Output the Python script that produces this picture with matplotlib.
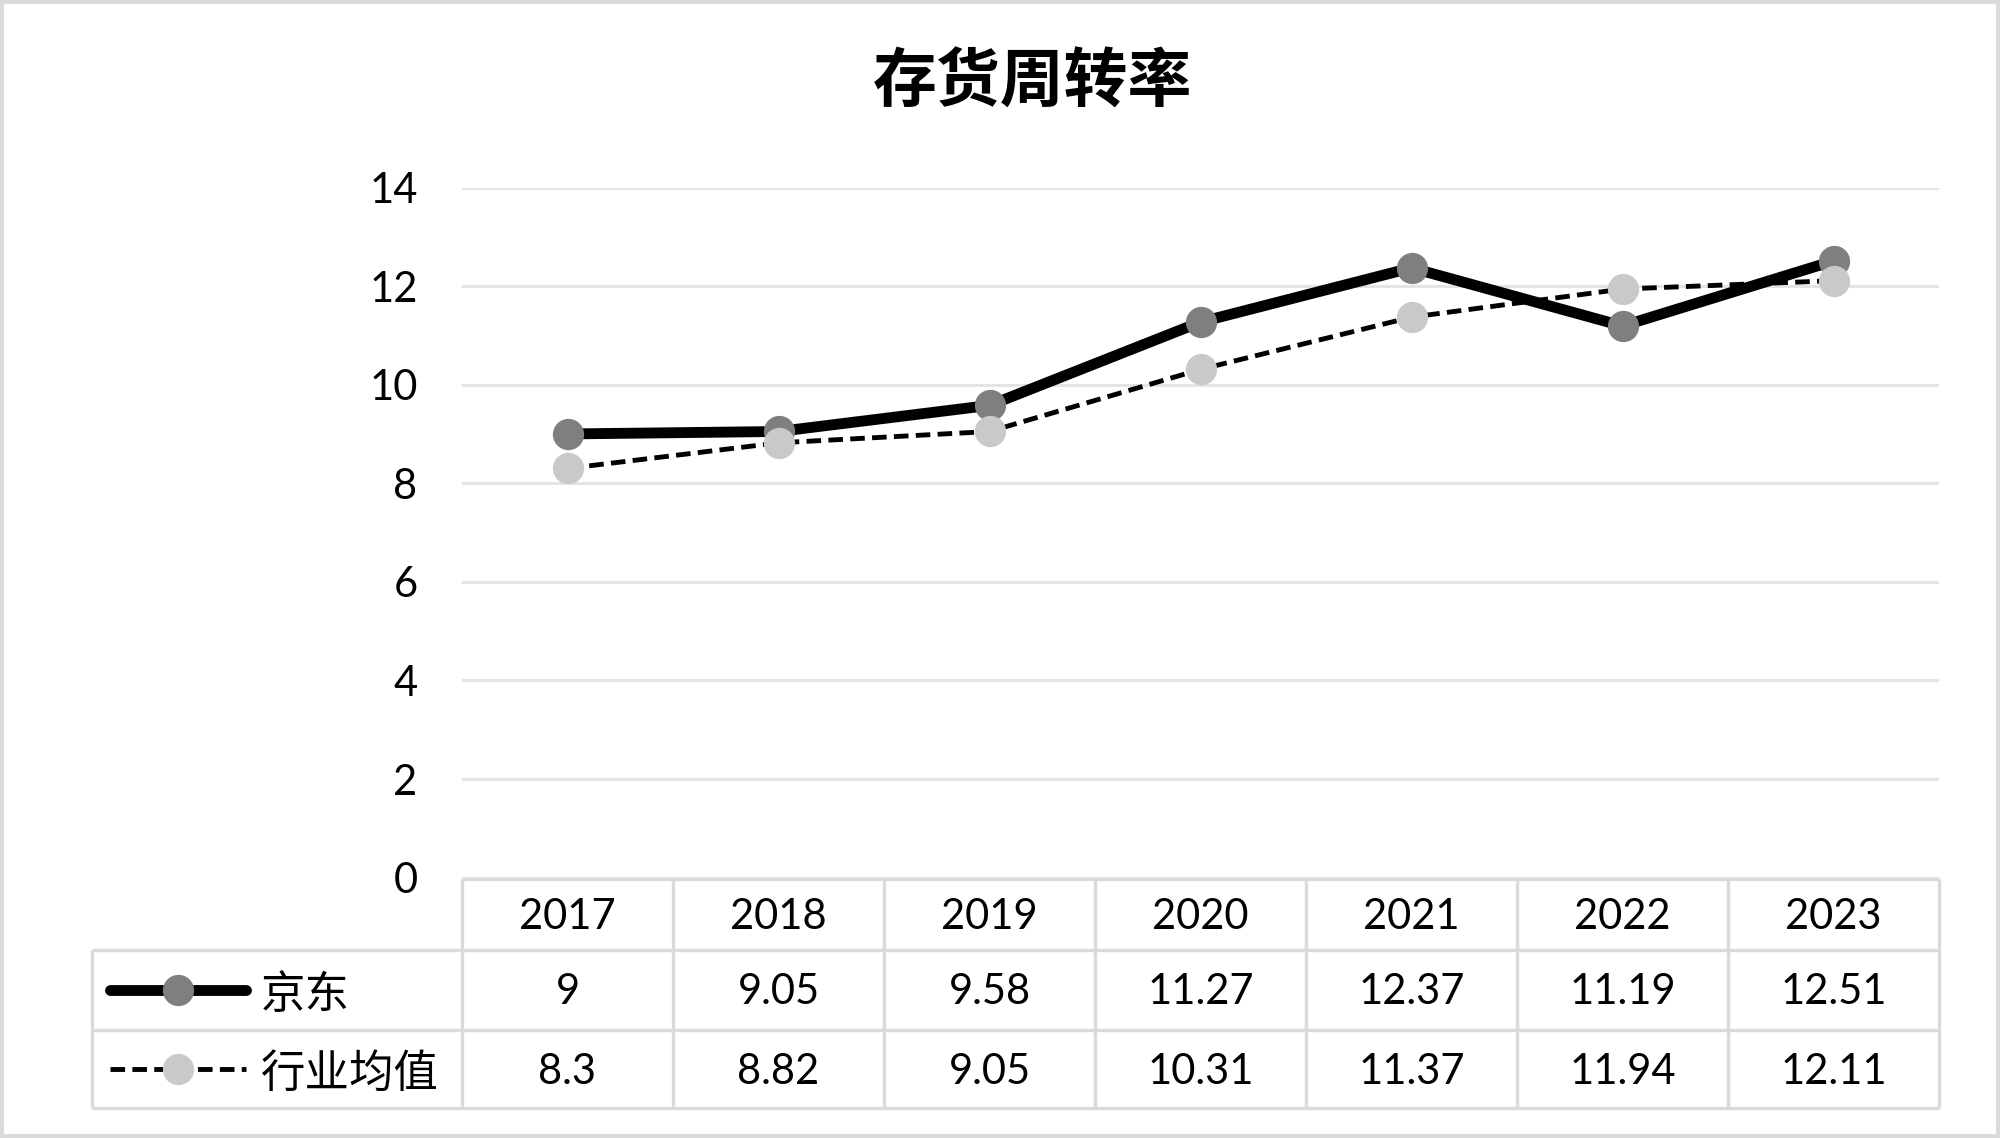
""" Inventory turnover chart with an Excel-style data table under it. """

import matplotlib
matplotlib.use('Agg')
import matplotlib.pyplot as plt
from matplotlib.transforms import blended_transform_factory
from matplotlib.patches import Rectangle

plt.rcParams['font.family'] = ['Lato', 'Noto Sans CJK SC', 'DejaVu Sans']

# Data
title = '存货周转率'
years = ['2017', '2018', '2019', '2020', '2021', '2022', '2023']
series_names = ['京东', '行业均值']
jd = [9, 9.05, 9.58, 11.27, 12.37, 11.19, 12.51]
industry = [8.3, 8.82, 9.05, 10.31, 11.37, 11.94, 12.11]
yticks = [0, 2, 4, 6, 8, 10, 12, 14]

# Layout (pixels of the 2000x1138 picture)
W, H = 2000, 1138
col_left, col_right = 462, 1939
leg_left = 92
y_top, y_zero = 187.5, 877.6
row_edges = [879, 950, 1030, 1108]

grid_c = '#e4e4e4'
border_c = '#dadada'


def fx(px):
    return px / W


def fy(py):
    return 1 - py / H


fig = plt.figure(figsize=(W / 100, H / 100), dpi=100)

# outer frame
fig.add_artist(Rectangle((fx(2), fy(H - 2)), fx(W - 4), 1 - 2 * (2 / H),
                         transform=fig.transFigure, fill=False,
                         edgecolor=border_c, lw=3))

fig.text(fx(1033), fy(83), title, ha='center', va='center',
         fontsize=46, fontweight='bold', family=['Noto Sans CJK SC'])

ax = fig.add_axes([fx(col_left), fy(y_zero),
                   fx(col_right) - fx(col_left), fy(y_top) - fy(y_zero)])
x = list(range(len(years)))
ax.set_xlim(-0.5, len(years) - 0.5)
ax.set_ylim(0, 14)
ax.set_yticks(yticks)
ax.set_xticks([])
for s in ax.spines.values():
    s.set_visible(False)
ax.yaxis.grid(True, color=grid_c, lw=2.2)
ax.set_axisbelow(True)
ax.tick_params(axis='y', length=0, pad=32, labelsize=30)

style_jd = dict(color='black', lw=7.8, marker='o', ms=21.5,
                mfc='#7f7f7f', mec='#7f7f7f', solid_capstyle='round')
style_ind = dict(color='black', lw=3.5, ls=(0, (3.0, 1.5)), marker='o',
                 ms=21.5, mfc='#c9c9c9', mec='#c9c9c9')
ax.plot(x, jd, zorder=3, **style_jd)
ax.plot(x, industry, zorder=4, **style_ind)

# Data table
col_w = (col_right - col_left) / len(years)


def px2x(px):
    return -0.5 + (px - col_left) / col_w


tr = blended_transform_factory(ax.transData, fig.transFigure)
bl = dict(color=border_c, lw=2.4, transform=tr, clip_on=False, zorder=1,
          solid_capstyle='butt')

# horizontal borders
ax.plot([px2x(col_left), px2x(col_right)], [fy(row_edges[0])] * 2, **bl)
for ry in row_edges[1:]:
    ax.plot([px2x(leg_left), px2x(col_right)], [fy(ry)] * 2, **bl)
# vertical borders
for i in range(len(years) + 1):
    ax.plot([i - 0.5, i - 0.5], [fy(row_edges[0]), fy(row_edges[-1])], **bl)
ax.plot([px2x(leg_left)] * 2, [fy(row_edges[1]), fy(row_edges[-1])], **bl)

centers = [(row_edges[i] + row_edges[i + 1]) / 2 for i in range(3)]
for i, yr in enumerate(years):
    ax.text(i, fy(centers[0] - 1), yr, transform=tr, ha='center',
            va='center_baseline', fontsize=30)
for row, vals in enumerate([jd, industry]):
    for i, v in enumerate(vals):
        ax.text(i, fy(centers[row + 1] - 1), f'{v:g}', transform=tr,
                ha='center', va='center_baseline', fontsize=30)

# legend keys in the first column
for row, (name, st) in enumerate(zip(series_names, [style_jd, style_ind])):
    yy = fy(centers[row + 1])
    key = dict(st)
    key.pop('marker')
    ax.plot([px2x(110), px2x(246)], [yy, yy], transform=tr, clip_on=False,
            **{k: v for k, v in key.items() if k not in ('ms', 'mfc', 'mec')})
    ax.plot([px2x(178)], [yy], transform=tr, clip_on=False, marker='o',
            ms=st['ms'], mfc=st['mfc'], mec=st['mec'], ls='none')
    ax.text(px2x(261), yy, name, transform=tr, ha='left',
            va='center_baseline', fontsize=32, family=['Noto Sans CJK SC'])

fig.savefig('out.png', dpi=100)
